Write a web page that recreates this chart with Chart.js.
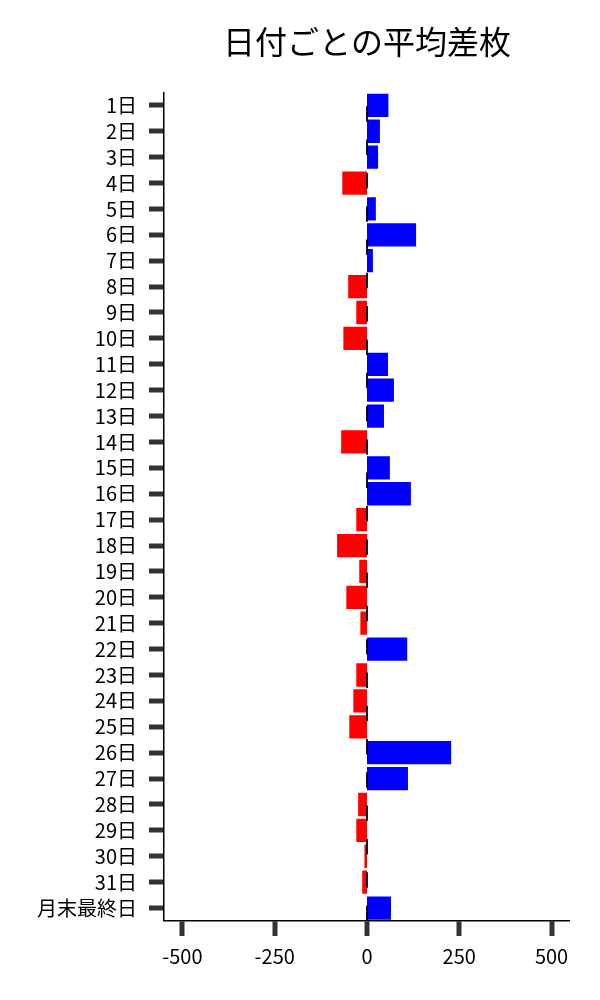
<!DOCTYPE html>
<html><head><meta charset="utf-8">
<script src="https://cdn.jsdelivr.net/npm/chart.js@4.4.0/dist/chart.umd.min.js"></script>
<style>html,body{margin:0;padding:0;background:#fff}#wrap{width:600px;height:1000px;position:relative}</style>
</head><body><div id="wrap"><canvas id="c" width="600" height="1000"></canvas></div>
<script>
const titleText = '日付ごとの平均差枚';
const categories = ['1日','2日','3日','4日','5日','6日','7日','8日','9日','10日','11日','12日','13日','14日','15日','16日','17日','18日','19日','20日','21日','22日','23日','24日','25日','26日','27日','28日','29日','30日','31日','月末最終日'];
const avgDiff = [58,35,30,-67,24,133,16,-51,-29,-64,57,73,46,-70,62,119,-29,-81,-21,-56,-18,109,-29,-37,-48,228,111,-24,-29,-7,-13,65];
const xTickValues = [-500,-250,0,250,500];
const xMin = -550, xMax = 550;
const posColor = '#0000ff', negColor = '#ff0000';
const FONT = "'Noto Sans CJK JP', 'Noto Sans', sans-serif";

const zeroLine = {
  id: 'zeroLine',
  afterDatasetsDraw(chart) {
    const {ctx, chartArea, scales: {x}} = chart;
    const px = x.getPixelForValue(0);
    ctx.save();
    ctx.strokeStyle = '#000';
    ctx.lineWidth = 1.8;
    ctx.setLineDash([15.5, 17.8]);
    ctx.beginPath();
    ctx.moveTo(px, chartArea.bottom);
    ctx.lineTo(px, chartArea.top);
    ctx.stroke();
    ctx.restore();
  }
};

new Chart(document.getElementById('c'), {
  type: 'bar',
  data: {
    labels: categories,
    datasets: [{
      data: avgDiff,
      backgroundColor: avgDiff.map(v => v >= 0 ? posColor : negColor),
      borderWidth: 0,
      barPercentage: 0.9,
      categoryPercentage: 1.0
    }]
  },
  options: {
    indexAxis: 'y',
    responsive: false,
    animation: false,
    layout: { padding: { left: 0, right: 30, top: 0, bottom: 32 } },
    plugins: {
      legend: { display: false },
      tooltip: { enabled: false },
      title: {
        display: true,
        text: titleText,
        fullSize: false,
        color: '#000',
        font: { family: FONT, size: 32, weight: 'normal' },
        padding: { top: 23, bottom: 31 }
      }
    },
    scales: {
      x: {
        min: xMin, max: xMax,
        afterBuildTicks: s => { s.ticks = xTickValues.map(v => ({ value: v })); },
        afterFit: s => { s.height = 47; },
        grid: { drawOnChartArea: false, drawTicks: true, tickLength: 15, tickWidth: 5, lineWidth: 0, tickColor: '#333', color: '#333' },
        border: { display: true, color: '#000', width: 1.5 },
        ticks: { color: '#000', font: { family: FONT, size: 20 }, padding: 8, maxRotation: 0, autoSkip: false }
      },
      y: {
        afterFit: s => { s.width = 164; },
        grid: { offset: false, drawOnChartArea: false, drawTicks: true, tickLength: 15, tickWidth: 5, lineWidth: 0, tickColor: '#333', color: '#333' },
        border: { display: true, color: '#000', width: 1.5 },
        ticks: { color: '#000', font: { family: FONT, size: 20 }, padding: 12, autoSkip: false }
      }
    }
  },
  plugins: [zeroLine]
});
</script></body></html>
